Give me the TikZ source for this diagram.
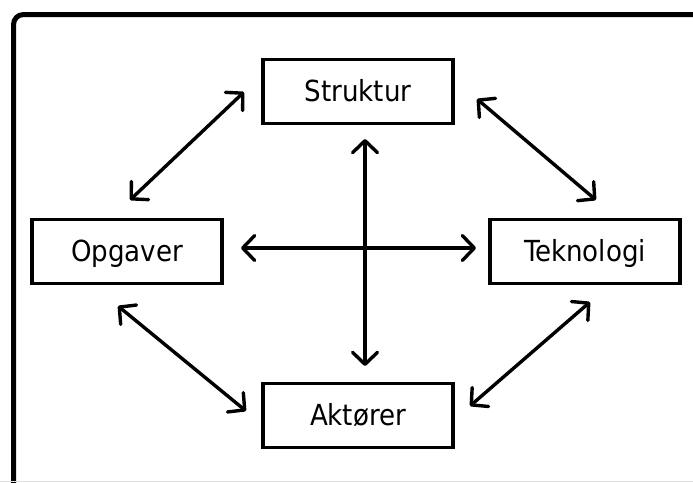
\documentclass[tikz,border=0pt]{standalone}
\usepackage{fontspec}
\newfontfamily\labelfont{DejaVu Sans Condensed}
\usetikzlibrary{arrows.meta}
\begin{document}
\begin{tikzpicture}[x=1pt,y=-1pt,
  box/.style={draw=black,line width=3.5pt,fill=white,inner sep=0pt,
    minimum width=190pt,minimum height=64pt,
    font=\labelfont\fontsize{29}{34}\selectfont,
    text height=21pt,text depth=2pt},
  link/.style={line width=3.4pt,line cap=round,
    {Straight Barb[length=12pt,width=25pt,round]}-{Straight Barb[length=12pt,width=25pt,round]}}]
  \useasboundingbox (0,0) rectangle (693,482);
  % outer frame, running past the right and lower edges
  \draw[line width=5pt,rounded corners=10pt] (13.5,720) -- (13.5,14.5) -- (720,14.5);
  \draw[black!12,line width=1pt] (0,481.5) -- (693,481.5);
  % the four boxes
  \node[box] (struktur)  at (358,91.5)  {Struktur};
  \node[box] (opgaver)   at (127,251.5) {Opgaver};
  \node[box] (teknologi) at (585,251.5) {Teknologi};
  \node[box] (aktorer)   at (358,415.5) {Aktører};
  % arrow end points
  \coordinate (h1) at (241,248);
  \coordinate (h2) at (476,248);
  \coordinate (v1) at (365,139);
  \coordinate (v2) at (365,366);
  \coordinate (os1) at (130,200);
  \coordinate (os2) at (244,92);
  \coordinate (st1) at (477,99);
  \coordinate (st2) at (596,200);
  \coordinate (oa1) at (118,306);
  \coordinate (oa2) at (246,411);
  \coordinate (ta1) at (590,302);
  \coordinate (ta2) at (470,406);
  % connectors
  \draw[link] (h1) -- (h2);
  \draw[link] (v1) -- (v2);
  \draw[link] (os1) -- (os2);
  \draw[link] (st1) -- (st2);
  \draw[link] (oa1) -- (oa2);
  \draw[link] (ta1) -- (ta2);
\end{tikzpicture}
\end{document}
